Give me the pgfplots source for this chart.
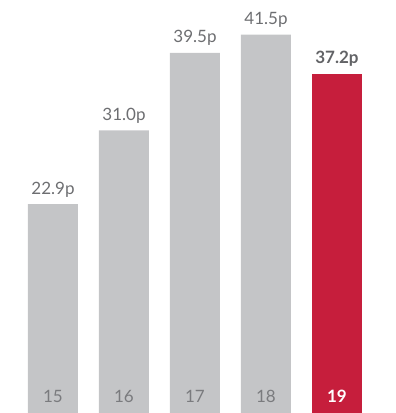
\documentclass[border=0pt]{standalone}
\usepackage{pgfplots}
\pgfplotsset{compat=1.18}
\usepackage{fontspec}
\setmainfont{Lato}
\definecolor{bargray}{HTML}{C4C5C7}
\definecolor{barred}{HTML}{C61E3C}
\definecolor{txtgray}{HTML}{6D6E71}
\definecolor{lblgray}{HTML}{7A7B7E}
\begin{document}
\begin{tikzpicture}
\begin{axis}[
  width=395pt, height=413pt, scale only axis,
  hide axis,
  xmin=-0.746, xmax=4.817, ymin=0, ymax=45.3,
  ybar, bar width=0.704, bar shift=0pt,
  clip=false,
  /pgf/number format/assume math mode=true,
  nodes near coords={\pgfmathprintnumber[fixed,fixed zerofill,precision=1,assume math mode=true]{\pgfplotspointmeta}p},
  every node near coord/.append style={anchor=base, yshift=10pt, font=\fontsize{17}{20}\selectfont, text=txtgray},
]
\path (rel axis cs:0,0) rectangle (rel axis cs:1,1);
\addplot[fill=bargray, draw=none] coordinates {(0,22.9) (1,31.0) (2,39.5) (3,41.5)};
\addplot[fill=barred, draw=none, every node near coord/.append style={font=\fontsize{17}{20}\selectfont\bfseries, text=txtgray!90!black}] coordinates {(4,37.2)};
\foreach \i/\l in {0/15,1/16,2/17,3/18} {
  \edef\tmp{\noexpand\node[anchor=base, text=lblgray, font=\noexpand\fontsize{17}{20}\noexpand\selectfont] at (axis cs:\i,1.2) {\l};}
  \tmp
}
\node[anchor=base, text=white, font=\fontsize{17}{20}\selectfont\bfseries] at (axis cs:4,1.2) {19};
\end{axis}
\end{tikzpicture}
\end{document}
